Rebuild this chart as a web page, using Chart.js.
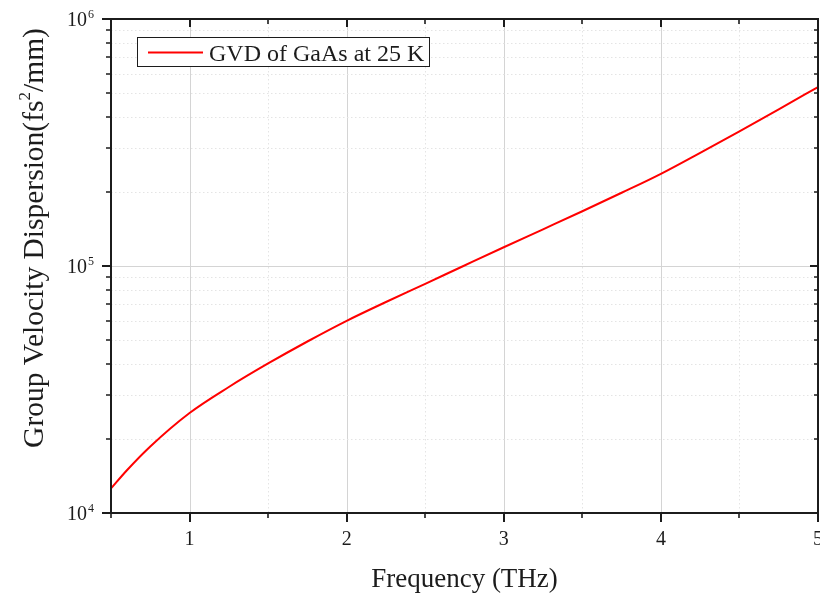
<!DOCTYPE html>
<html>
<head>
<meta charset="utf-8">
<title>GVD of GaAs at 25 K</title>
<script src="https://cdn.jsdelivr.net/npm/chart.js@4.4.1/dist/chart.umd.min.js"></script>
<style>
  html, body { margin: 0; padding: 0; background: #fff; }
  canvas { display: block; }
</style>
</head>
<body>
<canvas id="gvd" width="820" height="595"></canvas>
<script>
// Group velocity dispersion of GaAs at 25 K versus frequency
const frequencyTHz = [0.5, 0.6, 0.75, 1.0, 1.25, 1.5, 1.75, 2.0, 2.25, 2.5, 2.75, 3.0, 3.25, 3.5, 3.75, 4.0, 4.25, 4.5, 4.75, 5.0];
const gvdFs2PerMm  = [12570, 14860, 18590, 25400, 32370, 40300, 49470, 59990, 71500, 84720, 100470, 119070, 140800, 166600, 197900, 236200, 287300, 351100, 430900, 530500];
const seriesLabel  = 'GVD of GaAs at 25 K';

// Axis ranges and ticks
const xRange = [0.5, 5];
const xTickStep = 0.5;
const yDecades = [1e4, 1e5, 1e6];
const yDecadeExponents = ['4', '5', '6'];
const yMinorMultipliers = [2, 3, 4, 5, 6, 7, 8, 9];

const xTitle = 'Frequency (THz)';
const yTitleParts = ['Group Velocity Dispersion(fs', '2', '/mm)'];

const SERIF = '"Liberation Serif", "Times New Roman", serif';
const INK = '#1c1c1c';

function isDecade(v) {
  return Math.abs(Math.log10(v) - Math.round(Math.log10(v))) < 1e-9;
}

const framePlugin = {
  id: 'originFrame',
  beforeDatasetsDraw(chart) {
    const { ctx, chartArea: a, scales: { x, y } } = chart;
    ctx.save();
    ctx.lineWidth = 1;
    // vertical grid lines
    x.ticks.forEach(t => {
      if (t.value <= x.min || t.value >= x.max) return;
      const px = Math.round(x.getPixelForValue(t.value)) + 0.5;
      const major = Number.isInteger(t.value);
      ctx.strokeStyle = major ? '#d4d4d4' : '#e4e4e4';
      ctx.setLineDash(major ? [] : [1.5, 2.5]);
      ctx.beginPath();
      ctx.moveTo(px, a.top);
      ctx.lineTo(px, a.bottom);
      ctx.stroke();
    });
    // horizontal grid lines
    y.ticks.forEach(t => {
      if (t.value <= y.min || t.value >= y.max) return;
      const py = Math.round(y.getPixelForValue(t.value)) + 0.5;
      const major = isDecade(t.value);
      ctx.strokeStyle = major ? '#d4d4d4' : '#e4e4e4';
      ctx.setLineDash(major ? [] : [1.5, 2.5]);
      ctx.beginPath();
      ctx.moveTo(a.left, py);
      ctx.lineTo(a.right, py);
      ctx.stroke();
    });
    ctx.restore();
  },
  afterDatasetsDraw(chart) {
    const { ctx, chartArea: a, scales: { x, y } } = chart;
    ctx.save();
    ctx.setLineDash([]);
    ctx.strokeStyle = INK;

    // tick marks: outward on bottom/left, inward on top/right
    x.ticks.forEach(t => {
      const px = Math.round(x.getPixelForValue(t.value));
      const major = Number.isInteger(t.value);
      ctx.lineWidth = major ? 2 : 1.6;
      const len = major ? 9 : 5;
      ctx.beginPath();
      ctx.moveTo(px, a.bottom);
      ctx.lineTo(px, a.bottom + len);
      ctx.moveTo(px, a.top);
      ctx.lineTo(px, a.top + (major ? 8 : 5));
      ctx.stroke();
    });
    y.ticks.forEach(t => {
      const py = Math.round(y.getPixelForValue(t.value));
      const major = isDecade(t.value);
      ctx.lineWidth = major ? 2 : 1.6;
      const len = major ? 9 : 5;
      ctx.beginPath();
      ctx.moveTo(a.left, py);
      ctx.lineTo(a.left - len, py);
      ctx.moveTo(a.right, py);
      ctx.lineTo(a.right - (major ? 8 : 4), py);
      ctx.stroke();
    });

    // axis box
    ctx.lineWidth = 2;
    ctx.strokeRect(a.left, a.top, a.right - a.left, a.bottom - a.top);

    // x tick labels
    ctx.fillStyle = INK;
    ctx.font = '20px ' + SERIF;
    ctx.textAlign = 'center';
    ctx.textBaseline = 'top';
    x.ticks.forEach(t => {
      if (!Number.isInteger(t.value)) return;
      ctx.fillText(String(t.value), x.getPixelForValue(t.value), a.bottom + 17);
    });

    // y tick labels as powers of ten
    yDecades.forEach((v, i) => {
      const py = y.getPixelForValue(v);
      ctx.font = '20px ' + SERIF;
      ctx.textAlign = 'right';
      ctx.textBaseline = 'middle';
      ctx.fillText('10', a.left - 24, py + 2);
      ctx.font = '12px ' + SERIF;
      ctx.textAlign = 'left';
      ctx.textBaseline = 'top';
      ctx.fillText(yDecadeExponents[i], a.left - 23, py - 10);
    });

    // x axis title
    ctx.font = '27px ' + SERIF;
    ctx.textAlign = 'center';
    ctx.textBaseline = 'alphabetic';
    ctx.fillText(xTitle, (a.left + a.right) / 2, 587);

    // y axis title with superscript
    const big = '29.5px ' + SERIF, small = '17px ' + SERIF;
    ctx.font = big;
    const w0 = ctx.measureText(yTitleParts[0]).width;
    const w2 = ctx.measureText(yTitleParts[2]).width;
    ctx.font = small;
    const w1 = ctx.measureText(yTitleParts[1]).width;
    const total = w0 + w1 + w2;
    ctx.translate(43, 238);
    ctx.rotate(-Math.PI / 2);
    ctx.textAlign = 'left';
    ctx.textBaseline = 'alphabetic';
    let cx = -total / 2;
    ctx.font = big;
    ctx.fillText(yTitleParts[0], cx, 0);
    cx += w0;
    ctx.font = small;
    ctx.fillText(yTitleParts[1], cx, -13);
    cx += w1;
    ctx.font = big;
    ctx.fillText(yTitleParts[2], cx, 0);
    ctx.restore();

    // legend box inside the plot
    const ds = chart.data.datasets[0];
    ctx.save();
    ctx.fillStyle = '#fff';
    ctx.fillRect(137.5, 37.5, 292, 29);
    ctx.strokeStyle = INK;
    ctx.lineWidth = 1;
    ctx.strokeRect(137.5, 37.5, 292, 29);
    ctx.strokeStyle = ds.borderColor;
    ctx.lineWidth = ds.borderWidth;
    ctx.beginPath();
    ctx.moveTo(148, 52.5);
    ctx.lineTo(203, 52.5);
    ctx.stroke();
    ctx.fillStyle = INK;
    ctx.font = '24px ' + SERIF;
    ctx.textAlign = 'left';
    ctx.textBaseline = 'alphabetic';
    ctx.fillText(ds.label, 209, 61);
    ctx.restore();
  }
};

new Chart(document.getElementById('gvd'), {
  type: 'line',
  data: {
    datasets: [{
      label: seriesLabel,
      data: frequencyTHz.map((f, i) => ({ x: f, y: gvdFs2PerMm[i] })),
      borderColor: '#ff0000',
      borderWidth: 2,
      pointRadius: 0,
      cubicInterpolationMode: 'monotone',
      fill: false
    }]
  },
  options: {
    responsive: false,
    animation: false,
    devicePixelRatio: 1,
    layout: { padding: { top: 19, right: 2, left: 0, bottom: 0 } },
    plugins: { legend: { display: false }, tooltip: { enabled: false } },
    scales: {
      x: {
        type: 'linear',
        min: xRange[0],
        max: xRange[1],
        ticks: { stepSize: xTickStep, display: false },
        grid: { display: false, drawTicks: false },
        border: { display: false },
        afterFit(scale) { scale.height = 82; }
      },
      y: {
        type: 'logarithmic',
        min: yDecades[0],
        max: yDecades[yDecades.length - 1],
        ticks: { display: false },
        grid: { display: false, drawTicks: false },
        border: { display: false },
        afterBuildTicks(scale) {
          const ticks = [];
          yDecades.forEach((d, i) => {
            ticks.push({ value: d, major: true });
            if (i < yDecades.length - 1) {
              yMinorMultipliers.forEach(m => ticks.push({ value: d * m, major: false }));
            }
          });
          scale.ticks = ticks;
        },
        afterFit(scale) { scale.width = 111; }
      }
    }
  },
  plugins: [framePlugin]
});
</script>
</body>
</html>
